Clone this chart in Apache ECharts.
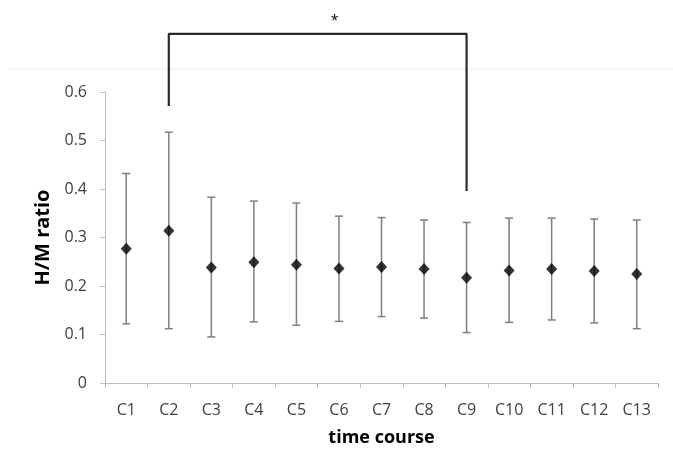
<!DOCTYPE html>
<html><head><meta charset="utf-8">
<script src="https://cdn.jsdelivr.net/npm/echarts@6/dist/echarts.min.js"></script>
<style>html,body{margin:0;padding:0;background:#fff}#c{width:673px;height:454px}</style>
</head><body><div id="c"></div>
<script>
var categories = ['C1','C2','C3','C4','C5','C6','C7','C8','C9','C10','C11','C12','C13'];
var means = [0.277,0.314,0.238,0.249,0.244,0.236,0.239,0.235,0.217,0.232,0.235,0.231,0.225];
var upper = [0.432,0.517,0.383,0.375,0.371,0.344,0.341,0.336,0.331,0.340,0.340,0.338,0.336];
var lower = [0.122,0.112,0.095,0.126,0.119,0.127,0.137,0.134,0.104,0.125,0.130,0.124,0.112];
var bracket = [['C2',0.571],['C2',0.72],['C9',0.72],['C9',0.396]];
var yTicks = [0,0.1,0.2,0.3,0.4,0.5,0.6];

var font = 'Open Sans';
var chart = echarts.init(document.getElementById('c'), null, {renderer:'canvas'});
var errData = categories.map(function(c,i){return [i, lower[i], upper[i]];});
chart.setOption({
  animation:false,
  grid:{left:105,right:15,top:92,bottom:71},
  xAxis:{type:'category',data:categories,boundaryGap:true,
    axisLine:{lineStyle:{color:'#bfbfbf',width:1}},
    axisTick:{show:true,alignWithLabel:false,length:5,lineStyle:{color:'#bfbfbf'}},
    axisLabel:{color:'#404040',fontSize:16,fontFamily:font,margin:19},
    name:'time course',nameLocation:'middle',nameGap:46,
    nameTextStyle:{color:'#000',fontSize:18,fontWeight:'bold',fontFamily:font}},
  yAxis:{type:'value',min:0,max:0.6,interval:0.1,
    axisLine:{show:true,lineStyle:{color:'#bfbfbf'}},
    axisTick:{show:true,length:5,lineStyle:{color:'#bfbfbf'}},
    splitLine:{show:false},
    axisLabel:{color:'#404040',fontSize:16,fontFamily:font,margin:18,
      formatter:function(v){var i=yTicks.indexOf(Math.round(v*10)/10);return i>=0?String(yTicks[i]):'';}},
    name:'H/M ratio',nameLocation:'middle',nameGap:47,nameRotate:90,
    nameTextStyle:{color:'#000',fontSize:20,fontWeight:'bold',fontFamily:font}},
  series:[
    {type:'custom',data:errData,z:2,
     renderItem:function(params,api){
       var x=api.value(0);
       var lo=api.coord([x,api.value(1)]);
       var hi=api.coord([x,api.value(2)]);
       var w=4;
       var st={stroke:'#7f7f7f',lineWidth:1.5};
       return {type:'group',children:[
         {type:'line',shape:{x1:hi[0],y1:hi[1],x2:lo[0],y2:lo[1]},style:st},
         {type:'line',shape:{x1:hi[0]-w,y1:hi[1],x2:hi[0]+w,y2:hi[1]},style:st},
         {type:'line',shape:{x1:lo[0]-w,y1:lo[1],x2:lo[0]+w,y2:lo[1]},style:st}
       ]};
     }},
    {type:'scatter',data:means,symbol:'diamond',symbolSize:[11,12],z:5,
     itemStyle:{color:'#000'}},
    {type:'line',data:bracket,clip:false,symbol:'none',z:6,
     lineStyle:{color:'#2b2b2b',width:2.2}}
  ]
});
var p1=chart.convertToPixel({gridIndex:0},['C2',0.72]);
var p2=chart.convertToPixel({gridIndex:0},['C9',0.72]);
chart.setOption({graphic:[
  {type:'line',shape:{x1:10,y1:69,x2:673,y2:69},style:{stroke:'#ececec',lineWidth:1},silent:true},
  {type:'text',x:(p1[0]+p2[0])/2+17,y:p1[1]-13,style:{text:'*',font:'14px '+font,fill:'#000',textAlign:'center',textVerticalAlign:'middle'}}
]});
</script>
</body></html>
